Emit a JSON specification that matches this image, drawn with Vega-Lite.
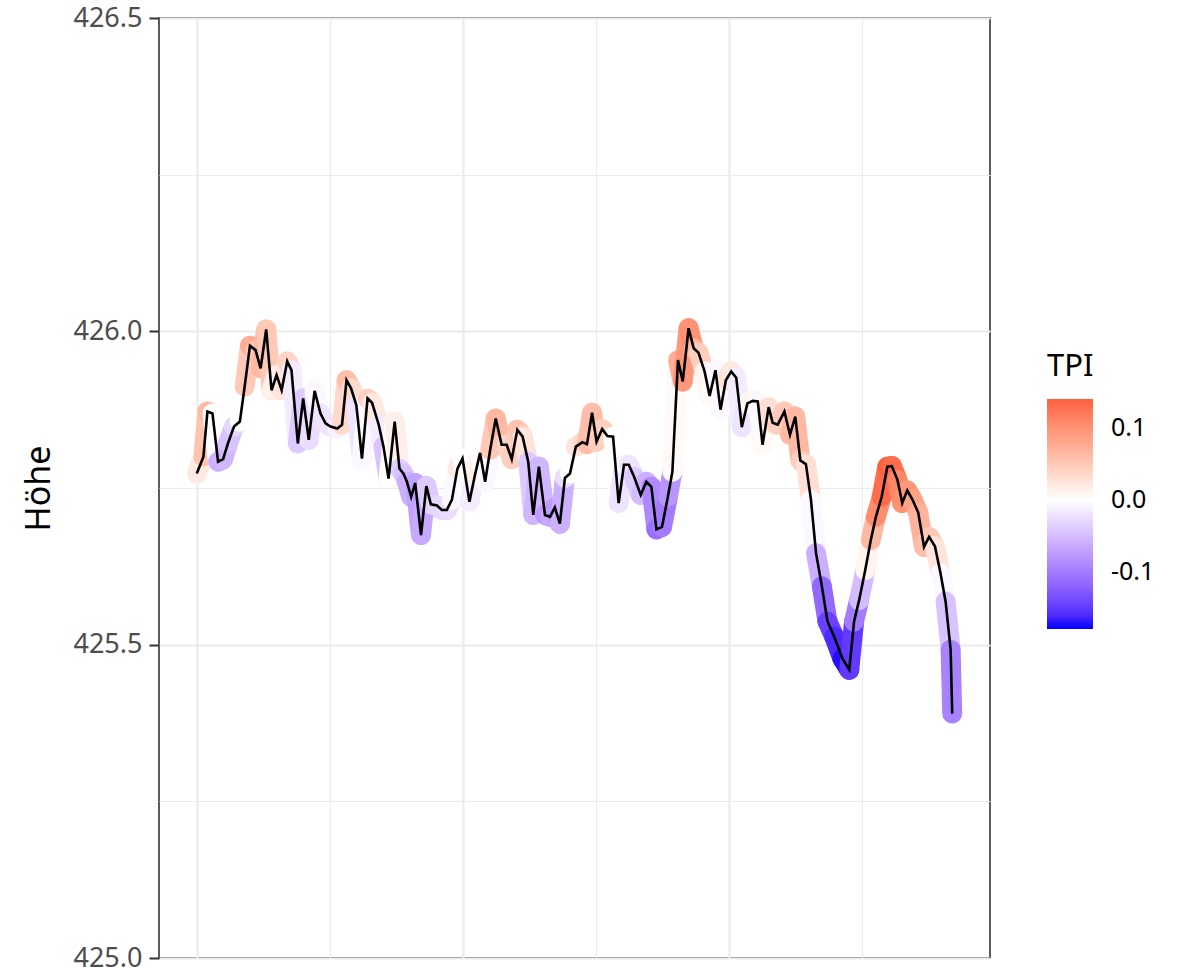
{
  "$schema": "https://vega.github.io/schema/vega-lite/v6.json",
  "width": 831,
  "height": 940,
  "autosize": {"type": "none"},
  "padding": {"left": 159, "top": 18, "right": 195, "bottom": 11},
  "background": "white",
  "config": {"view": {"stroke": "#333333", "strokeWidth": 1.6}, "font": "Noto Sans"},
  "data": {"values": [
    {"dist": 0.0, "hoehe": 425.773, "tpi": 0.0},
    {"dist": 2.5, "hoehe": 425.800, "tpi": 0.04},
    {"dist": 4.0, "hoehe": 425.872, "tpi": 0.07},
    {"dist": 5.9, "hoehe": 425.869, "tpi": 0.06},
    {"dist": 8.0, "hoehe": 425.792, "tpi": -0.06},
    {"dist": 9.9, "hoehe": 425.796, "tpi": -0.06},
    {"dist": 11.7, "hoehe": 425.821, "tpi": -0.05},
    {"dist": 14.0, "hoehe": 425.848, "tpi": -0.04},
    {"dist": 16.2, "hoehe": 425.856, "tpi": -0.02},
    {"dist": 18.0, "hoehe": 425.912, "tpi": 0.02},
    {"dist": 20.0, "hoehe": 425.977, "tpi": 0.08},
    {"dist": 22.1, "hoehe": 425.970, "tpi": 0.07},
    {"dist": 24.0, "hoehe": 425.941, "tpi": 0.03},
    {"dist": 26.1, "hoehe": 426.003, "tpi": 0.10},
    {"dist": 28.1, "hoehe": 425.906, "tpi": 0.0},
    {"dist": 30.0, "hoehe": 425.930, "tpi": 0.03},
    {"dist": 31.9, "hoehe": 425.906, "tpi": 0.0},
    {"dist": 34.0, "hoehe": 425.952, "tpi": 0.05},
    {"dist": 35.6, "hoehe": 425.938, "tpi": 0.03},
    {"dist": 38.0, "hoehe": 425.821, "tpi": -0.06},
    {"dist": 40.0, "hoehe": 425.893, "tpi": -0.02},
    {"dist": 42.1, "hoehe": 425.827, "tpi": -0.06},
    {"dist": 44.3, "hoehe": 425.905, "tpi": 0.01},
    {"dist": 46.5, "hoehe": 425.869, "tpi": -0.02},
    {"dist": 48.4, "hoehe": 425.853, "tpi": -0.02},
    {"dist": 50.3, "hoehe": 425.848, "tpi": -0.02},
    {"dist": 52.8, "hoehe": 425.845, "tpi": -0.02},
    {"dist": 54.6, "hoehe": 425.851, "tpi": 0.0},
    {"dist": 56.3, "hoehe": 425.922, "tpi": 0.07},
    {"dist": 58.0, "hoehe": 425.909, "tpi": 0.05},
    {"dist": 60.0, "hoehe": 425.882, "tpi": 0.02},
    {"dist": 62.1, "hoehe": 425.797, "tpi": -0.06},
    {"dist": 64.2, "hoehe": 425.893, "tpi": 0.05},
    {"dist": 65.9, "hoehe": 425.886, "tpi": 0.04},
    {"dist": 68.4, "hoehe": 425.851, "tpi": 0.0},
    {"dist": 70.2, "hoehe": 425.816, "tpi": -0.03},
    {"dist": 72.1, "hoehe": 425.765, "tpi": -0.06},
    {"dist": 74.4, "hoehe": 425.856, "tpi": 0.06},
    {"dist": 76.2, "hoehe": 425.781, "tpi": -0.03},
    {"dist": 77.7, "hoehe": 425.773, "tpi": -0.04},
    {"dist": 79.0, "hoehe": 425.760, "tpi": -0.05},
    {"dist": 80.6, "hoehe": 425.736, "tpi": -0.07},
    {"dist": 82.1, "hoehe": 425.758, "tpi": -0.05},
    {"dist": 84.3, "hoehe": 425.675, "tpi": -0.09},
    {"dist": 86.3, "hoehe": 425.753, "tpi": -0.04},
    {"dist": 88.0, "hoehe": 425.724, "tpi": -0.04},
    {"dist": 90.3, "hoehe": 425.722, "tpi": -0.03},
    {"dist": 92.1, "hoehe": 425.715, "tpi": -0.03},
    {"dist": 94.0, "hoehe": 425.715, "tpi": -0.03},
    {"dist": 95.9, "hoehe": 425.731, "tpi": -0.02},
    {"dist": 98.0, "hoehe": 425.781, "tpi": 0.01},
    {"dist": 99.9, "hoehe": 425.797, "tpi": 0.03},
    {"dist": 102.5, "hoehe": 425.728, "tpi": -0.03},
    {"dist": 104.6, "hoehe": 425.771, "tpi": 0.0},
    {"dist": 106.5, "hoehe": 425.806, "tpi": 0.03},
    {"dist": 108.4, "hoehe": 425.760, "tpi": -0.03},
    {"dist": 110.3, "hoehe": 425.811, "tpi": 0.02},
    {"dist": 112.4, "hoehe": 425.861, "tpi": 0.08},
    {"dist": 114.6, "hoehe": 425.819, "tpi": 0.05},
    {"dist": 116.5, "hoehe": 425.819, "tpi": 0.05},
    {"dist": 118.4, "hoehe": 425.796, "tpi": 0.03},
    {"dist": 120.5, "hoehe": 425.843, "tpi": 0.06},
    {"dist": 122.5, "hoehe": 425.832, "tpi": 0.05},
    {"dist": 124.6, "hoehe": 425.792, "tpi": 0.0},
    {"dist": 126.5, "hoehe": 425.707, "tpi": -0.08},
    {"dist": 128.6, "hoehe": 425.784, "tpi": -0.03},
    {"dist": 130.9, "hoehe": 425.707, "tpi": -0.08},
    {"dist": 132.8, "hoehe": 425.704, "tpi": -0.07},
    {"dist": 134.6, "hoehe": 425.719, "tpi": -0.06},
    {"dist": 136.5, "hoehe": 425.693, "tpi": -0.09},
    {"dist": 138.4, "hoehe": 425.766, "tpi": -0.03},
    {"dist": 140.3, "hoehe": 425.773, "tpi": -0.02},
    {"dist": 142.5, "hoehe": 425.816, "tpi": 0.02},
    {"dist": 145.0, "hoehe": 425.823, "tpi": 0.03},
    {"dist": 146.7, "hoehe": 425.820, "tpi": 0.04},
    {"dist": 148.6, "hoehe": 425.870, "tpi": 0.08},
    {"dist": 150.3, "hoehe": 425.824, "tpi": 0.04},
    {"dist": 152.4, "hoehe": 425.844, "tpi": 0.05},
    {"dist": 154.4, "hoehe": 425.833, "tpi": 0.04},
    {"dist": 156.5, "hoehe": 425.832, "tpi": 0.04},
    {"dist": 158.6, "hoehe": 425.726, "tpi": -0.04},
    {"dist": 160.6, "hoehe": 425.787, "tpi": 0.0},
    {"dist": 162.4, "hoehe": 425.787, "tpi": -0.01},
    {"dist": 164.4, "hoehe": 425.768, "tpi": -0.03},
    {"dist": 166.9, "hoehe": 425.739, "tpi": -0.05},
    {"dist": 169.0, "hoehe": 425.760, "tpi": -0.05},
    {"dist": 170.9, "hoehe": 425.752, "tpi": -0.07},
    {"dist": 172.8, "hoehe": 425.684, "tpi": -0.11},
    {"dist": 174.9, "hoehe": 425.688, "tpi": -0.11},
    {"dist": 177.1, "hoehe": 425.736, "tpi": -0.09},
    {"dist": 178.8, "hoehe": 425.776, "tpi": -0.07},
    {"dist": 180.9, "hoehe": 425.954, "tpi": 0.08},
    {"dist": 182.7, "hoehe": 425.920, "tpi": 0.07},
    {"dist": 184.9, "hoehe": 426.005, "tpi": 0.12},
    {"dist": 186.8, "hoehe": 425.973, "tpi": 0.08},
    {"dist": 188.6, "hoehe": 425.966, "tpi": 0.06},
    {"dist": 190.9, "hoehe": 425.936, "tpi": 0.03},
    {"dist": 192.8, "hoehe": 425.897, "tpi": -0.01},
    {"dist": 195.0, "hoehe": 425.938, "tpi": 0.02},
    {"dist": 196.9, "hoehe": 425.875, "tpi": -0.03},
    {"dist": 198.9, "hoehe": 425.922, "tpi": 0.02},
    {"dist": 200.9, "hoehe": 425.936, "tpi": 0.03},
    {"dist": 202.8, "hoehe": 425.926, "tpi": 0.01},
    {"dist": 204.9, "hoehe": 425.847, "tpi": -0.04},
    {"dist": 207.0, "hoehe": 425.885, "tpi": 0.0},
    {"dist": 209.0, "hoehe": 425.889, "tpi": 0.01},
    {"dist": 210.9, "hoehe": 425.888, "tpi": 0.01},
    {"dist": 212.7, "hoehe": 425.819, "tpi": -0.02},
    {"dist": 215.0, "hoehe": 425.879, "tpi": 0.03},
    {"dist": 216.5, "hoehe": 425.854, "tpi": 0.03},
    {"dist": 218.4, "hoehe": 425.851, "tpi": 0.04},
    {"dist": 220.9, "hoehe": 425.872, "tpi": 0.05},
    {"dist": 223.0, "hoehe": 425.835, "tpi": 0.05},
    {"dist": 225.0, "hoehe": 425.864, "tpi": 0.08},
    {"dist": 226.9, "hoehe": 425.794, "tpi": 0.05},
    {"dist": 229.0, "hoehe": 425.788, "tpi": 0.04},
    {"dist": 230.9, "hoehe": 425.731, "tpi": 0.02},
    {"dist": 232.8, "hoehe": 425.646, "tpi": -0.03},
    {"dist": 235.0, "hoehe": 425.593, "tpi": -0.09},
    {"dist": 237.1, "hoehe": 425.537, "tpi": -0.14},
    {"dist": 239.6, "hoehe": 425.513, "tpi": -0.15},
    {"dist": 242.7, "hoehe": 425.478, "tpi": -0.17},
    {"dist": 245.3, "hoehe": 425.460, "tpi": -0.179},
    {"dist": 247.1, "hoehe": 425.537, "tpi": -0.12},
    {"dist": 249.0, "hoehe": 425.571, "tpi": -0.08},
    {"dist": 251.3, "hoehe": 425.619, "tpi": -0.02},
    {"dist": 253.4, "hoehe": 425.667, "tpi": 0.04},
    {"dist": 255.3, "hoehe": 425.704, "tpi": 0.09},
    {"dist": 257.5, "hoehe": 425.736, "tpi": 0.12},
    {"dist": 259.6, "hoehe": 425.784, "tpi": 0.14},
    {"dist": 261.3, "hoehe": 425.785, "tpi": 0.14},
    {"dist": 263.4, "hoehe": 425.763, "tpi": 0.12},
    {"dist": 265.2, "hoehe": 425.726, "tpi": 0.10},
    {"dist": 267.1, "hoehe": 425.746, "tpi": 0.10},
    {"dist": 269.0, "hoehe": 425.732, "tpi": 0.09},
    {"dist": 271.2, "hoehe": 425.711, "tpi": 0.08},
    {"dist": 273.4, "hoehe": 425.656, "tpi": 0.06},
    {"dist": 275.3, "hoehe": 425.672, "tpi": 0.06},
    {"dist": 277.5, "hoehe": 425.657, "tpi": 0.04},
    {"dist": 279.6, "hoehe": 425.614, "tpi": 0.01},
    {"dist": 281.5, "hoehe": 425.569, "tpi": -0.02},
    {"dist": 283.4, "hoehe": 425.492, "tpi": -0.07},
    {"dist": 284.0, "hoehe": 425.390, "tpi": -0.12}
  ]},
  "layer": [
    {
      "transform": [
        {
          "window": [
            {"op": "lead", "field": "dist", "as": "dist2"},
            {"op": "lead", "field": "hoehe", "as": "hoehe2"},
            {"op": "mean", "field": "tpi", "as": "tpi_seg"}
          ],
          "frame": [0, 1],
          "sort": [{"field": "dist", "order": "ascending"}]
        },
        {"filter": "isValid(datum.dist2)"}
      ],
      "mark": {"type": "rule", "strokeWidth": 20, "strokeCap": "round"},
      "encoding": {
        "x": {
          "field": "dist",
          "type": "quantitative",
          "scale": {"domain": [-14.2, 298.2], "nice": false, "zero": false},
          "axis": {
            "values": [0, 50, 100, 150, 200, 250],
            "labels": false,
            "ticks": false,
            "domain": false,
            "title": null,
            "grid": true,
            "gridColor": "#EBEBEB",
            "gridWidth": {"condition": {"test": "datum.value % 100 != 0", "value": 1.1}, "value": 2.2}
          }
        },
        "x2": {"field": "dist2"},
        "y": {
          "field": "hoehe",
          "type": "quantitative",
          "title": "Höhe",
          "scale": {"domain": [425, 426.5], "nice": false, "zero": false},
          "axis": {
            "values": [425, 425.25, 425.5, 425.75, 426, 426.25, 426.5],
            "labelExpr": "(datum.value * 4) % 2 == 0 ? format(datum.value, '.1f') : ''",
            "labelOverlap": false,
            "grid": true,
            "gridColor": "#EBEBEB",
            "gridWidth": {"condition": {"test": "(datum.value * 4) % 2 != 0", "value": 1.1}, "value": 2.2},
            "tickOpacity": {"condition": {"test": "(datum.value * 4) % 2 != 0", "value": 0}, "value": 1},
            "tickSize": 10,
            "tickWidth": 2,
            "tickColor": "#333333",
            "domain": false,
            "labelFont": "Noto Sans",
            "labelFontSize": 27,
            "labelColor": "#4D4D4D",
            "labelPadding": 7,
            "titleFont": "Noto Sans",
            "titleFontSize": 34,
            "titleFontWeight": "normal",
            "titleColor": "#000000",
            "titlePadding": 16
          }
        },
        "y2": {"field": "hoehe2"},
        "color": {
          "field": "tpi_seg",
          "type": "quantitative",
          "title": "TPI",
          "scale": {
            "domain": [-0.179, 0, 0.14],
            "range": ["#0000FF", "#FFFFFF", "#FF603F"],
            "interpolate": "lab",
            "clamp": true
          },
          "legend": {
            "orient": "none",
            "legendX": 888,
            "legendY": 334,
            "direction": "vertical",
            "gradientLength": 230,
            "gradientThickness": 46,
            "gradientStrokeWidth": 0,
            "values": [-0.1, 0, 0.1],
            "labelExpr": "datum.value < 0 ? '-' + format(-datum.value, '.1f') : format(datum.value, '.1f')",
            "titleFont": "Noto Sans",
            "titleFontSize": 31,
            "titleFontWeight": "normal",
            "titleColor": "#000000",
            "titlePadding": 16,
            "labelFont": "Noto Sans",
            "labelFontSize": 25,
            "labelColor": "#000000",
            "labelOffset": 18
          }
        }
      }
    },
    {
      "mark": {"type": "line", "color": "#000000", "strokeWidth": 2.6},
      "encoding": {
        "x": {"field": "dist", "type": "quantitative"},
        "y": {"field": "hoehe", "type": "quantitative"},
        "order": {"field": "dist", "type": "quantitative"}
      }
    }
  ]
}
